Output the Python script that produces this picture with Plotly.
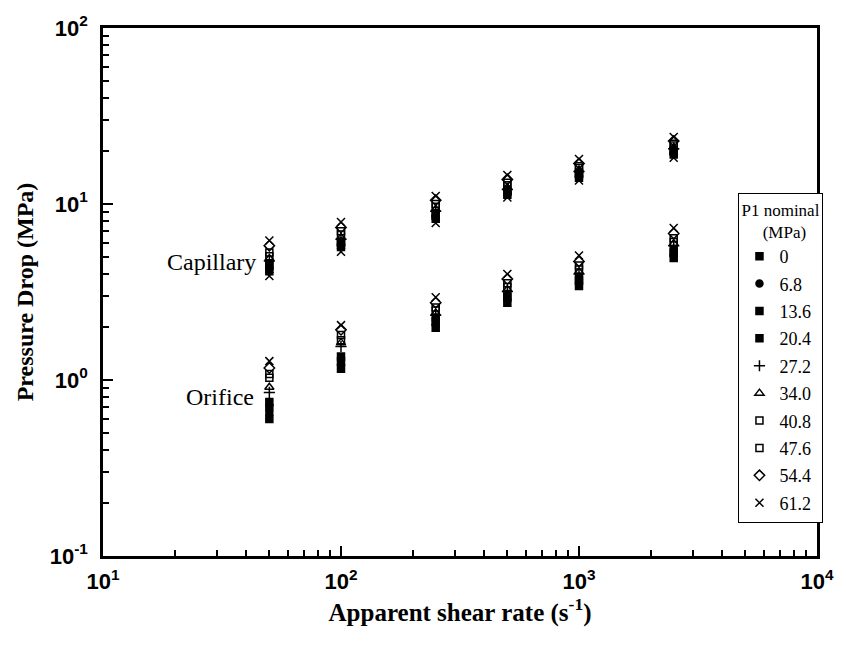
import plotly.graph_objects as go

# ---- data ----
shear_rate = [50, 100, 250, 500, 1000, 2500]
p1_labels = ["0", "6.8", "13.6", "20.4", "27.2", "34.0", "40.8", "47.6", "54.4", "61.2"]

cap_0    = [4.15, 5.70, 8.25, 11.3, 14.1, 19.1]
cap_6_8  = [4.30, 5.85, 8.45, 11.5, 14.4, 19.5]
cap_13_6 = [4.45, 6.00, 8.65, 11.7, 14.7, 19.9]
cap_20_4 = [4.60, 6.10, 8.85, 11.9, 15.0, 20.2]
cap_27_2 = [4.75, 6.30, 9.10, 12.1, 15.3, 20.6]
cap_34_0 = [4.90, 6.45, 9.35, 12.4, 15.6, 21.0]
cap_40_8 = [5.05, 6.70, 9.65, 12.8, 16.0, 21.5]
cap_47_6 = [5.30, 7.00, 10.0, 13.2, 16.4, 22.0]
cap_54_4 = [5.80, 7.35, 10.5, 13.8, 17.0, 22.8]
cap_61_2 = [6.20, 7.90, 11.1, 14.6, 18.0, 24.0]
cap_61_2_low = [3.90, 5.35, 7.80, 10.9, 13.6, 18.3]

ori_0    = [0.60, 1.16, 1.98, 2.75, 3.42, 4.93]
ori_6_8  = [0.64, 1.22, 2.06, 2.85, 3.55, 5.08]
ori_13_6 = [0.69, 1.28, 2.15, 2.95, 3.68, 5.28]
ori_20_4 = [0.75, 1.36, 2.25, 3.06, 3.82, 5.50]
ori_27_2 = [0.85, 1.55, 2.33, 3.18, 4.00, 5.80]
ori_34_0 = [0.91, 1.63, 2.40, 3.27, 4.12, 5.97]
ori_40_8 = [1.03, 1.68, 2.48, 3.38, 4.25, 6.08]
ori_47_6 = [1.08, 1.80, 2.58, 3.55, 4.48, 6.38]
ori_54_4 = [1.17, 1.93, 2.75, 3.75, 4.72, 6.80]
ori_61_2 = [1.28, 2.05, 2.95, 4.00, 5.10, 7.30]

cap_series = [cap_0, cap_6_8, cap_13_6, cap_20_4, cap_27_2,
              cap_34_0, cap_40_8, cap_47_6, cap_54_4, cap_61_2]
ori_series = [ori_0, ori_6_8, ori_13_6, ori_20_4, ori_27_2,
              ori_34_0, ori_40_8, ori_47_6, ori_54_4, ori_61_2]

x_tick_vals = [10, 100, 1000, 10000]
x_tick_text = ["10<sup>1</sup>", "10<sup>2</sup>", "10<sup>3</sup>", "10<sup>4</sup>"]
y_tick_vals = [0.1, 1, 10, 100]
y_tick_text = ["10<sup>-1</sup>", "10<sup>0</sup>", "10<sup>1</sup>", "10<sup>2</sup>"]
minor_mult = [2, 3, 4, 5, 6, 7, 8, 9]
x_minor_vals = [m * d for d in [10, 100, 1000] for m in minor_mult]
y_minor_vals = [m * d for d in [0.1, 1, 10] for m in minor_mult]

# ---- styles ----
symbols = ["square", "circle", "square", "square", "cross-thin",
           "triangle-up-open", "square-open", "square-open", "diamond-open", "x-thin"]
sizes = [7, 7, 7, 7, 8, 8, 7, 7, 8, 8]

fig = go.Figure()
for lab, sym, sz, cy, oy in zip(p1_labels, symbols, sizes, cap_series, ori_series):
    fig.add_trace(go.Scatter(
        x=shear_rate + shear_rate, y=cy + oy, mode="markers", name=lab,
        legendgroup=lab,
        marker=dict(symbol=sym, size=sz, color="black",
                    line=dict(color="black", width=1.5)),
    ))
fig.add_trace(go.Scatter(
    x=shear_rate, y=cap_61_2_low, mode="markers", name="61.2", showlegend=False,
    legendgroup="61.2",
    marker=dict(symbol="x-thin", size=8, color="black", line=dict(color="black", width=1.5)),
))

axis_common = dict(
    type="log", showgrid=False, zeroline=False,
    showline=True, linecolor="black", linewidth=2.5, mirror=True,
    ticks="inside", ticklen=10, tickwidth=2, tickcolor="black",
    tickfont=dict(family="Liberation Sans", size=22, color="black", weight="bold"),
)
title_font = dict(family="Liberation Serif", size=24, color="black", weight="bold")

fig.update_xaxes(**axis_common, range=[1, 4], tickvals=x_tick_vals, ticktext=x_tick_text,
                 minor=dict(tickmode="array", tickvals=x_minor_vals, ticks="inside",
                            ticklen=6, tickwidth=1.5, tickcolor="black", showgrid=False),
                 ticklabelstandoff=4,
                 title=dict(text="Apparent shear rate (s<sup>-1</sup>)", standoff=10,
                            font=dict(family="Liberation Serif", size=25, color="black", weight="bold")))
fig.update_yaxes(**axis_common, range=[-1, 2], tickvals=y_tick_vals, ticktext=y_tick_text,
                 minor=dict(tickmode="array", tickvals=y_minor_vals, ticks="inside",
                            ticklen=6, tickwidth=1.5, tickcolor="black", showgrid=False),
                 ticklabelstandoff=8,
                 title=dict(text="Pressure Drop (MPa)", standoff=10, font=title_font))

fig.add_annotation(x=0.217, y=0.557, xref="paper", yref="paper", text="Capillary",
                   showarrow=False, xanchor="right", yanchor="middle",
                   font=dict(family="Liberation Serif", size=24, color="black"))
fig.add_annotation(x=0.214, y=0.302, xref="paper", yref="paper", text="Orifice",
                   showarrow=False, xanchor="right", yanchor="middle",
                   font=dict(family="Liberation Serif", size=24, color="black"))

fig.update_layout(
    width=846, height=647,
    margin=dict(l=103, r=19, t=19, b=91),
    paper_bgcolor="white", plot_bgcolor="white",
    legend=dict(
        x=0.89, y=0.688, xanchor="left", yanchor="top",
        bordercolor="black", borderwidth=1, bgcolor="white",
        font=dict(family="Liberation Serif", size=18, color="black"),
        title=dict(text="P1 nominal<br>&nbsp;&nbsp;&nbsp;&nbsp;&nbsp;(MPa)", side="top",
                   font=dict(family="Liberation Serif", size=17, color="black")),
        tracegroupgap=1, itemwidth=30,
    ),
)

fig.write_html("out.html")
